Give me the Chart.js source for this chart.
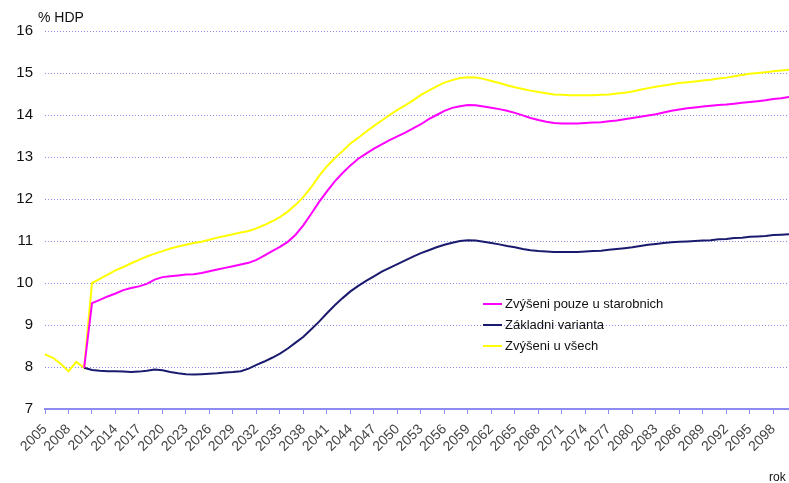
<!DOCTYPE html>
<html>
<head>
<meta charset="utf-8">
<script src="https://cdn.jsdelivr.net/npm/chart.js@4"></script>
<style>
  html, body { margin: 0; padding: 0; background: #fff; }
  #wrap { width: 789px; height: 483px; }
</style>
</head>
<body>
<div id="wrap"><canvas id="graf" width="789" height="483"></canvas></div>
<script>
// Roky 2005-2100
const roky = [];
for (let r = 2005; r <= 2100; r++) roky.push(r);

// Zvýšení pouze u starobních (od 2010)
const starobni = [null, null, null, null, null,
  7.98, 9.52, 9.60, 9.68, 9.75, 9.83, 9.88, 9.92, 9.98, 10.08,
  10.14, 10.16, 10.18, 10.20, 10.21, 10.24, 10.28, 10.32, 10.36, 10.40,
  10.44, 10.48, 10.55, 10.65, 10.76, 10.86, 10.98, 11.15, 11.38, 11.65,
  11.93, 12.18, 12.42, 12.62, 12.80, 12.96, 13.08, 13.20, 13.30, 13.40,
  13.49, 13.58, 13.68, 13.78, 13.90, 14.00, 14.10, 14.17, 14.21, 14.24,
  14.23, 14.20, 14.17, 14.14, 14.10, 14.05, 13.99, 13.93, 13.88, 13.84,
  13.81, 13.80, 13.80, 13.80, 13.81, 13.82, 13.83, 13.85, 13.87, 13.90,
  13.93, 13.96, 13.99, 14.02, 14.06, 14.10, 14.13, 14.16, 14.18, 14.20,
  14.22, 14.24, 14.25, 14.27, 14.29, 14.31, 14.33, 14.35, 14.38, 14.40,
  14.43];

// Základní varianta (od 2010)
const zakladni = [null, null, null, null, null,
  7.98, 7.93, 7.91, 7.90, 7.90, 7.89, 7.88, 7.89, 7.91, 7.94,
  7.92, 7.88, 7.85, 7.83, 7.82, 7.83, 7.84, 7.85, 7.87, 7.88,
  7.90, 7.96, 8.05, 8.13, 8.22, 8.32, 8.44, 8.58, 8.72, 8.90,
  9.08, 9.28, 9.47, 9.64, 9.80, 9.93, 10.05, 10.16, 10.27, 10.36,
  10.45, 10.54, 10.63, 10.71, 10.78, 10.85, 10.91, 10.96, 11.00, 11.02,
  11.01, 10.98, 10.95, 10.92, 10.88, 10.85, 10.81, 10.78, 10.76, 10.75,
  10.74, 10.74, 10.74, 10.74, 10.75, 10.76, 10.77, 10.79, 10.81, 10.83,
  10.85, 10.88, 10.91, 10.93, 10.95, 10.97, 10.98, 10.99, 11.00, 11.01,
  11.02, 11.04, 11.05, 11.07, 11.08, 11.10, 11.11, 11.12, 11.14, 11.15,
  11.16];

// Zvýšení u všech
const vsichni = [8.30, 8.22, 8.08, 7.90, 8.12,
  7.98, 10.00, 10.10, 10.20, 10.30, 10.38, 10.47, 10.55, 10.63, 10.70,
  10.76, 10.82, 10.87, 10.91, 10.95, 10.98, 11.03, 11.08, 11.12, 11.16,
  11.20, 11.24, 11.30, 11.38, 11.47, 11.57, 11.70, 11.86, 12.05, 12.28,
  12.55, 12.78, 12.97, 13.14, 13.32, 13.46, 13.60, 13.74, 13.87, 14.00,
  14.12, 14.23, 14.35, 14.48, 14.58, 14.68, 14.77, 14.83, 14.88, 14.90,
  14.89, 14.86, 14.81, 14.76, 14.71, 14.66, 14.62, 14.58, 14.55, 14.52,
  14.49, 14.48, 14.47, 14.47, 14.47, 14.47, 14.48, 14.49, 14.51, 14.53,
  14.56, 14.60, 14.64, 14.67, 14.70, 14.73, 14.76, 14.78, 14.80, 14.82,
  14.84, 14.87, 14.89, 14.92, 14.95, 14.98, 15.00, 15.02, 15.04, 15.06,
  15.08];

const nazvy = ['Zvýšeni pouze u starobnich', 'Základni varianta', 'Zvýšeni u všech'];
const barvy = ['#ff00ff', '#1a1a6e', '#ffff00'];

// Popisky os a legenda kreslené přímo do grafu
const popisky = {
  id: 'popisky',
  afterDraw(chart) {
    const c = chart.ctx;
    c.save();
    c.fillStyle = '#111';
    c.font = '14px "Liberation Sans", Arial, sans-serif';
    c.textBaseline = 'alphabetic';
    c.textAlign = 'left';
    c.fillText('% HDP', 38, 22);
    c.font = '12px "Liberation Sans", Arial, sans-serif';
    c.fillText('rok', 769, 481);

    // legenda
    c.font = '13px "Liberation Sans", Arial, sans-serif';
    c.textBaseline = 'middle';
    chart.data.datasets.forEach((ds, i) => {
      const y = 304 + i * 21;
      c.strokeStyle = ds.borderColor;
      c.lineWidth = 2;
      c.beginPath();
      c.moveTo(483, y);
      c.lineTo(502, y);
      c.stroke();
      c.fillStyle = '#111';
      c.fillText(ds.label, 505, y);
    });
    c.restore();
  }
};

const ctx = document.getElementById('graf').getContext('2d');
const graf = new Chart(ctx, {
  type: 'line',
  data: {
    labels: roky,
    datasets: [
      { label: nazvy[0], data: starobni, borderColor: barvy[0], backgroundColor: barvy[0] },
      { label: nazvy[1], data: zakladni, borderColor: barvy[1], backgroundColor: barvy[1] },
      { label: nazvy[2], data: vsichni, borderColor: barvy[2], backgroundColor: barvy[2] }
    ]
  },
  options: {
    responsive: false,
    animation: false,
    spanGaps: false,
    layout: { padding: { top: 31, right: 0, left: 0, bottom: 0 } },
    elements: {
      line: { borderWidth: 2, tension: 0 },
      point: { radius: 0 }
    },
    plugins: {
      legend: { display: false },
      tooltip: { enabled: false }
    },
    scales: {
      x: {
        type: 'category',
        offset: false,
        afterFit: (s) => { s.height = 74; s.paddingRight = 0; },
        border: { display: true, color: '#8c8cf0', width: 2 },
        grid: { drawOnChartArea: false, drawTicks: true, tickLength: 5, tickColor: '#8c8cf0', tickWidth: 1 },
        ticks: {
          autoSkip: false,
          minRotation: 45,
          maxRotation: 45,
          padding: 7,
          color: '#444',
          font: { family: '"Liberation Sans", Arial, sans-serif', size: 14 },
          callback: function (val, i) {
            const r = roky[i];
            return (r - 2005) % 3 === 0 ? String(r) : null;
          }
        }
      },
      y: {
        min: 7,
        max: 16,
        afterFit: (s) => { s.width = 45; },
        border: { display: false, dash: [1, 2] },
        grid: { color: '#8a8ae6', lineWidth: 1, drawTicks: false },
        ticks: {
          stepSize: 1,
          padding: 12,
          color: '#111',
          font: { family: '"Liberation Sans", Arial, sans-serif', size: 15 }
        }
      }
    }
  },
  plugins: [popisky]
});
</script>
</body>
</html>
